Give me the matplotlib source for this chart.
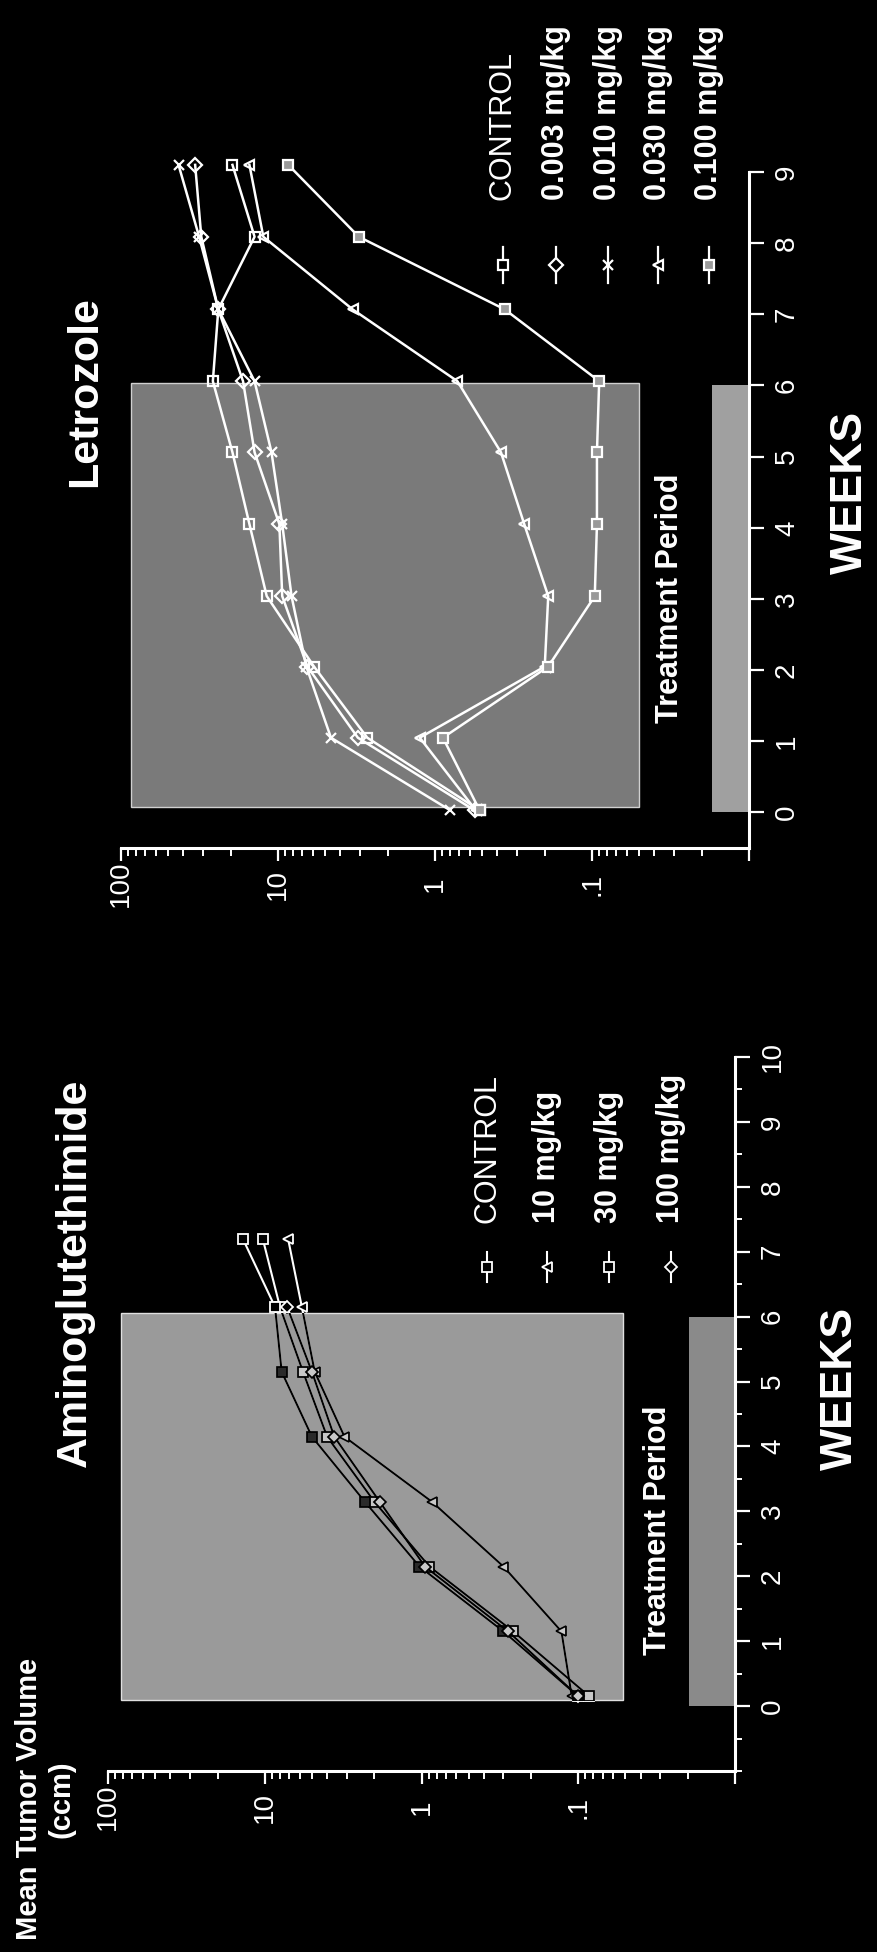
import numpy as np
import matplotlib
matplotlib.use("Agg")
import matplotlib.pyplot as plt
from matplotlib.patches import Rectangle
from matplotlib.lines import Line2D
from matplotlib.ticker import FixedLocator, LogLocator, NullFormatter, MultipleLocator

plt.rcParams['font.family'] = ['Liberation Sans', 'DejaVu Sans']

# ---------------- data ----------------
# Aminoglutethimide panel
ag_weeks = [0.15, 1.15, 2.15, 3.15, 4.15, 5.15, 6.15, 7.2]
ag_control = [0.085, 0.26, 0.89, 2.0, 4.0, 5.7, 8.0, 10.3]
ag_10 = [0.11, 0.128, 0.30, 0.86, 3.1, 4.8, 5.8, 7.1]
ag_30 = [0.10, 0.30, 1.03, 2.3, 5.0, 7.8, 8.6, 13.8]
ag_100 = [0.10, 0.28, 0.95, 1.85, 3.6, 5.0, 7.2]
ag_labels = ['CONTROL', '10 mg/kg', '30 mg/kg', '100 mg/kg']

# Letrozole panel
let_weeks = [0.03, 1.05, 2.05, 3.04, 4.05, 5.06, 6.06, 7.07, 8.09, 9.1]
let_control = [0.52, 2.7, 5.9, 11.8, 15.2, 19.5, 26, 24, 14.1, 19.5]
let_003 = [0.56, 3.1, 6.5, 9.4, 9.8, 14.1, 16.7, 24, 30.8, 33.7]
let_010 = [0.8, 4.6, 6.6, 8.2, 9.4, 11.0, 14.1, 24, 31.8, 43]
let_030 = [0.55, 1.25, 0.20, 0.19, 0.27, 0.38, 0.72, 3.35, 12.4, 15.2]
let_100 = [0.52, 0.89, 0.19, 0.096, 0.093, 0.093, 0.09, 0.36, 3.06, 8.6]
let_labels = ['CONTROL', '0.003 mg/kg', '0.010 mg/kg', '0.030 mg/kg', '0.100 mg/kg']

treat_start, treat_end = 0, 6   # treatment period in weeks
vol_ticks = [100, 10, 1, 0.1, 0.01]
vol_labels = ['100', '10', '1', '.1', '']

W, H = 877, 1952
fig = plt.figure(figsize=(W / 100, H / 100), dpi=100, facecolor='black')


def fx(px):
    return px / W


def fy(py):
    return 1 - py / H


def make_axes(left, right, top_px, bottom_px, wk_min, wk_max, minor):
    ax = fig.add_axes([fx(left), fy(bottom_px), fx(right - left), (bottom_px - top_px) / H])
    ax.set_facecolor('black')
    ax.set_xscale('log')
    ax.set_xlim(100, 0.01)
    ax.set_ylim(wk_min, wk_max)
    for s in ['top', 'left']:
        ax.spines[s].set_visible(False)
    for s in ['bottom', 'right']:
        ax.spines[s].set_color('white')
        ax.spines[s].set_linewidth(2.2)
    ax.xaxis.set_major_locator(FixedLocator(vol_ticks))
    ax.set_xticklabels(vol_labels)
    ax.xaxis.set_minor_locator(LogLocator(base=10, subs=np.arange(2, 10), numticks=30))
    ax.xaxis.set_minor_formatter(NullFormatter())
    ax.tick_params(axis='x', which='major', direction='out', length=9, width=1.6,
                   colors='white', labelsize=20, labelrotation=90, pad=17)
    ax.tick_params(axis='x', which='minor', direction='out', length=6, width=1.4, colors='white')
    for lbl in ax.get_xticklabels():
        lbl.set_verticalalignment('center')
    ax.yaxis.tick_right()
    ax.yaxis.set_major_locator(FixedLocator(range(0, int(wk_max) + 1)))
    if minor:
        ax.yaxis.set_minor_locator(MultipleLocator(0.5))
    ax.tick_params(axis='y', which='major', direction='out', length=11, width=1.6,
                   colors='white', labelsize=20, labelrotation=90, pad=7)
    ax.tick_params(axis='y', which='minor', direction='out', length=5, width=1.4, colors='white')
    for lbl in ax.get_yticklabels():
        lbl.set_verticalalignment('center')
        lbl.set_horizontalalignment('left')
    return ax


# ================= Letrozole (top) =================
ax_t = make_axes(121, 749, 172, 848, -0.5, 9, False)
shade_t = Rectangle((0.050, 0.08), 86 - 0.050, 5.95, facecolor='#7a7a7a',
                    edgecolor='#d0d0d0', lw=1, zorder=1)
ax_t.add_patch(shade_t)
ax_t.add_patch(Rectangle((0.01, treat_start), 0.0172 - 0.01, treat_end - treat_start,
                         facecolor='#a0a0a0', edgecolor='none', zorder=1))

let_series = [let_control, let_003, let_010, let_030, let_100]
let_markers = ['s', 'D', 'x', '<', 's']
let_mfc = ['none', 'none', 'none', 'none', '#9a9a9a']
for vals, mk, mfc in zip(let_series, let_markers, let_mfc):
    ax_t.plot(vals, let_weeks[:len(vals)], color='white', lw=1.8, marker=mk, ms=7,
              mfc=mfc, mec='white', mew=1.6, clip_on=False, zorder=3)

fig.text(fx(85), fy(392), 'Letrozole', rotation=90, ha='center', va='center',
         color='white', fontsize=31, fontweight='bold')
fig.text(fx(670), fy(598), 'Treatment Period', rotation=90, ha='center', va='center',
         color='white', fontsize=22, fontweight='bold')
fig.text(fx(850), fy(492), 'WEEKS', rotation=90, ha='center', va='center',
         color='white', fontsize=32, fontweight='bold')

let_leg_x = [503, 556, 608, 658, 709]
for x, lab, mk, mfc in zip(let_leg_x, let_labels, let_markers, let_mfc):
    fig.text(fx(x), fy(200), lab, rotation=90, ha='center', va='bottom', color='white',
             fontsize=22, fontweight='normal' if lab == 'CONTROL' else 'bold')
    fig.add_artist(Line2D([fx(x), fx(x)], [fy(247), fy(283)], color='white', lw=1.6))
    fig.add_artist(Line2D([fx(x)], [fy(265)], marker=mk, ms=7, mfc=mfc if mfc != 'none' else 'black',
                          mec='white', mew=1.6, color='white'))

# ================= Aminoglutethimide (bottom) =================
ax_b = make_axes(108, 735, 1057, 1771, -1, 10, True)
shade_b = Rectangle((0.052, 0.1), 82.6 - 0.052, 5.95, facecolor='#9a9a9a',
                    edgecolor='#e0e0e0', lw=1, zorder=1)
ax_b.add_patch(shade_b)
ax_b.add_patch(Rectangle((0.01, treat_start), 0.0196 - 0.01, treat_end - treat_start,
                         facecolor='#8a8a8a', edgecolor='none', zorder=1))

ag_series = [ag_control, ag_10, ag_30, ag_100]
ag_markers = ['s', '<', 's', 'D']
ag_fill = ['#c8c8c8', '#c8c8c8', '#2a2a2a', '#c8c8c8']
for vals, mk, fill in zip(ag_series, ag_markers, ag_fill):
    wk = ag_weeks[:len(vals)]
    # white outside the shaded block, black inside it
    ax_b.plot(vals, wk, color='white', lw=1.5, marker=mk, ms=6.5,
              mfc='black', mec='white', mew=1.3, zorder=3)
    inner, = ax_b.plot(vals, wk, color='black', lw=1.5, marker=mk, ms=6.5,
                       mfc=fill, mec='black', mew=1.3, zorder=4)
    inner.set_clip_path(shade_b)

fig.text(fx(75), fy(1273), 'Aminoglutethimide', rotation=90, ha='center', va='center',
         color='white', fontsize=31, fontweight='bold')
fig.text(fx(658), fy(1530), 'Treatment Period', rotation=90, ha='center', va='center',
         color='white', fontsize=22, fontweight='bold')
fig.text(fx(840), fy(1388), 'WEEKS', rotation=90, ha='center', va='center',
         color='white', fontsize=32, fontweight='bold')
fig.text(fx(45), fy(1799), 'Mean Tumor Volume\n(ccm)', rotation=90, ha='center', va='center',
         multialignment='center', color='white', fontsize=21, fontweight='bold')

ag_leg_x = [487, 547, 609, 671]
for x, lab, mk in zip(ag_leg_x, ag_labels, ag_markers):
    fig.text(fx(x), fy(1223), lab, rotation=90, ha='center', va='bottom', color='white',
             fontsize=22, fontweight='normal' if lab == 'CONTROL' else 'bold')
    fig.add_artist(Line2D([fx(x), fx(x)], [fy(1252), fy(1282)], color='white', lw=1.5))
    fig.add_artist(Line2D([fx(x)], [fy(1267)], marker=mk, ms=6.5, mfc='black',
                          mec='white', mew=1.3, color='white'))

fig.savefig('out.png', dpi=100, facecolor='black')
